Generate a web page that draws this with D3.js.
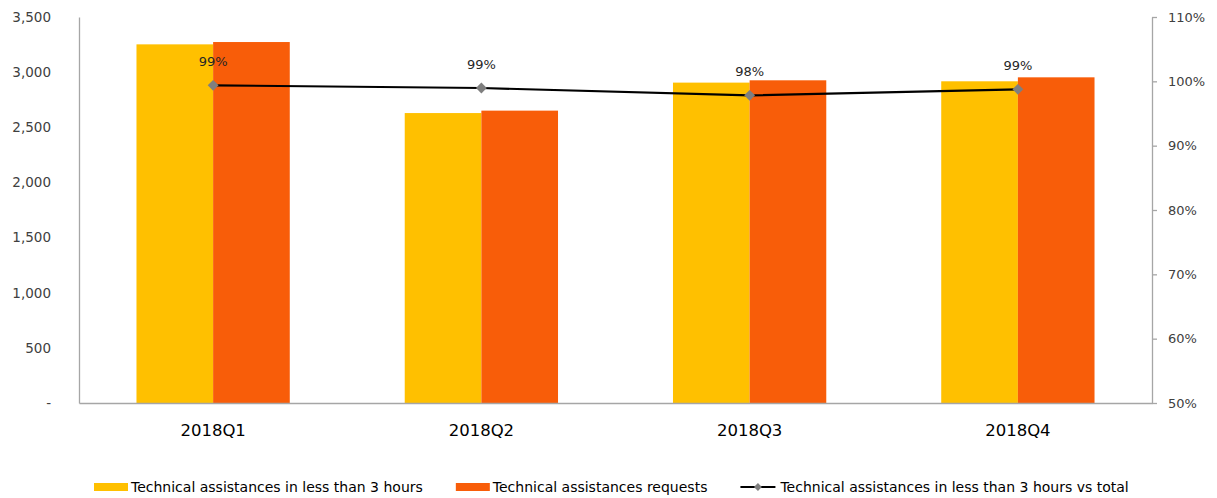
<!DOCTYPE html>
<html>
<head>
<meta charset="utf-8">
<script src="https://cdn.jsdelivr.net/npm/d3@7"></script>
<style>
  body { margin: 0; background: #fff; }
  svg { display: block; font-family: "DejaVu Sans", Verdana, sans-serif; }
</style>
</head>
<body>
<div id="chart"></div>
<script>
  var categories = ["2018Q1", "2018Q2", "2018Q3", "2018Q4"];
  var seriesNames = ["Technical assistances in less than 3 hours", "Technical assistances requests", "Technical assistances in less than 3 hours vs total"];
  var within3h = [3252, 2629, 2905, 2917];
  var requests = [3273, 2651, 2926, 2953];
  var ratio = [0.9938, 0.9896, 0.9782, 0.9876];
  var leftTicks = [0, 500, 1000, 1500, 2000, 2500, 3000, 3500];
  var rightTicks = [0.5, 0.6, 0.7, 0.8, 0.9, 1.0, 1.1];

  var width = 1217, height = 498;
  var margin = {top: 17, right: 65, bottom: 95, left: 79};
  var colors = ["#FFC000", "#F85D09"];

  var svg = d3.select('#chart').append('svg')
    .attr('width', width)
    .attr('height', height);

  var x0 = d3.scaleBand()
    .domain(categories)
    .range([margin.left, width - margin.right]);

  var x1 = d3.scaleBand()
    .domain([0, 1])
    .range([0, x0.bandwidth()])
    .paddingOuter(0.75);

  var y = d3.scaleLinear()
    .domain([0, 3500])
    .range([height - margin.bottom, margin.top]);

  var y2 = d3.scaleLinear()
    .domain([0.5, 1.1])
    .range([height - margin.bottom, margin.top]);

  // bars
  var rows = categories.map(function(c, i) { return {cat: c, vals: [within3h[i], requests[i]]}; });

  var groups = svg.append('g').selectAll('g')
    .data(rows)
    .enter().append('g')
    .attr('transform', function(d) { return 'translate(' + x0(d.cat) + ',0)'; });

  groups.selectAll('rect')
    .data(function(d) { return d.vals.map(function(v, j) { return {j: j, v: v}; }); })
    .enter().append('rect')
    .attr('x', function(d) { return x1(d.j); })
    .attr('width', x1.bandwidth())
    .attr('y', function(d) { return y(d.v); })
    .attr('height', function(d) { return y(0) - y(d.v); })
    .attr('fill', function(d) { return colors[d.j]; });

  // left axis
  var fmtLeft = function(v) { return v === 0 ? '-' : d3.format(',')(v); };
  var gl = svg.append('g')
    .attr('transform', 'translate(' + margin.left + ',0)')
    .call(d3.axisLeft(y).tickValues(leftTicks).tickFormat(fmtLeft).tickSize(0).tickPadding(28));
  gl.select('.domain').attr('stroke', '#a6a6a6').attr('stroke-width', 1.3);
  gl.selectAll('text').attr('font-size', '13.5px').attr('fill', '#404040')
    .attr('font-family', '"DejaVu Sans", Verdana, sans-serif');

  // right axis
  var gr = svg.append('g')
    .attr('transform', 'translate(' + (width - margin.right) + ',0)')
    .call(d3.axisRight(y2).tickValues(rightTicks).tickFormat(d3.format('.0%')).tickSize(5).tickSizeOuter(0).tickPadding(11));
  gr.select('.domain').attr('stroke', '#a6a6a6').attr('stroke-width', 1.3);
  gr.selectAll('line').attr('stroke', '#a6a6a6').attr('stroke-width', 1.3);
  gr.selectAll('text').attr('font-size', '13px').attr('fill', '#404040')
    .attr('font-family', '"DejaVu Sans", Verdana, sans-serif');

  // bottom axis
  var gb = svg.append('g')
    .attr('transform', 'translate(0,' + y(0) + ')')
    .call(d3.axisBottom(x0).tickSize(0).tickPadding(21));
  gb.select('.domain').attr('stroke', '#a6a6a6').attr('stroke-width', 1.3);
  gb.selectAll('text').attr('font-size', '16.5px').attr('fill', '#000')
    .attr('font-family', '"DejaVu Sans", Verdana, sans-serif');

  // line series
  var cx = function(i) { return x0(categories[i]) + x0.bandwidth() / 2; };
  var line = d3.line()
    .x(function(d, i) { return cx(i); })
    .y(function(d) { return y2(d); });

  svg.append('path')
    .datum(ratio)
    .attr('d', line)
    .attr('fill', 'none')
    .attr('stroke', '#000')
    .attr('stroke-width', 2.2);

  svg.selectAll('.marker')
    .data(ratio)
    .enter().append('path')
    .attr('class', 'marker')
    .attr('d', d3.symbol().type(d3.symbolDiamond2).size(75))
    .attr('transform', function(d, i) { return 'translate(' + cx(i) + ',' + y2(d) + ')'; })
    .attr('fill', '#7f7f7f');

  svg.selectAll('.lbl')
    .data(ratio)
    .enter().append('text')
    .attr('class', 'lbl')
    .attr('x', function(d, i) { return cx(i); })
    .attr('y', function(d) { return y2(d) - 19; })
    .attr('text-anchor', 'middle')
    .attr('font-size', '13px')
    .attr('fill', '#262626')
    .text(function(d) { return d3.format('.0%')(d); });

  // legend
  var legend = svg.append('g').attr('transform', 'translate(0,487)');
  var lx = 94;
  seriesNames.forEach(function(name, i) {
    var item = legend.append('g').attr('transform', 'translate(' + lx + ',0)');
    if (i < 2) {
      item.append('rect').attr('x', 0).attr('y', -4).attr('width', 34).attr('height', 8).attr('fill', colors[i]);
    } else {
      item.append('line').attr('x1', 0).attr('x2', 35).attr('y1', 0).attr('y2', 0)
        .attr('stroke', '#000').attr('stroke-width', 2.2);
      item.append('path').attr('d', d3.symbol().type(d3.symbolDiamond2).size(40))
        .attr('transform', 'translate(17.5,0)').attr('fill', '#7f7f7f');
    }
    var off = i < 2 ? 37 : 40;
    var t = item.append('text')
      .attr('x', off)
      .attr('y', 0)
      .attr('dy', '0.35em')
      .attr('font-size', '14px')
      .attr('font-family', '"DejaVu Sans", Verdana, sans-serif')
      .attr('fill', '#000')
      .text(name);
    lx += off + t.node().getComputedTextLength() + 33;
  });
</script>
</body>
</html>
